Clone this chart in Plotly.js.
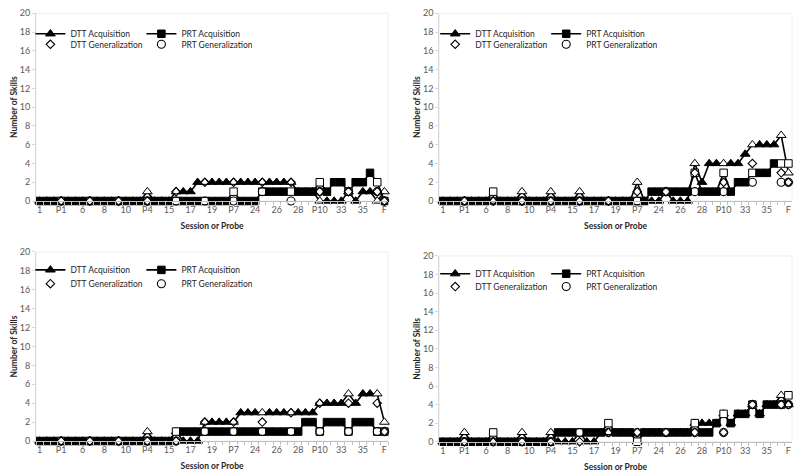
<!DOCTYPE html>
<html><head><meta charset="utf-8">
<script src="https://cdn.plot.ly/plotly-3.0.1.min.js"></script>
<style>html,body{margin:0;padding:0;background:#fff}#chart{width:800px;height:476px}</style>
</head><body><div id="chart"></div>
<script>
// Sessions and probes along the x axis
const categories = ["1","2","3","P1","4","5","6","P2","7","8","9","P3","10","11","12","P4","13","14","15","P5","16","17","18","P6","19","20","21","P7","22","23","24","P8","25","26","27","P9","28","29","30","P10","31","32","33","P11","34","35","36","P12","F"];
const tickLabels = ["1","P1","6","8","10","P4","15","17","19","P7","24","26","28","P10","33","35","F"];
const probeCategories = ["P1","P2","P3","P4","P5","P6","P7","P8","P9","P10","P11","P12","F"];

// Panel 1 (top left)
const p1DttAcq = [0,0,0,0,0,0,0,0,0,0,0,0,0,0,0, 1, 0,0,0, 1,1,1, 2,2,2,2,2,2,2,2,2,2,2,2,2,2, 1,1,1, 0,0,0,0, 1, 0, 1,1, 0, 1];
const p1PrtAcq = [0,0,0,0,0,0,0,0,0,0,0,0,0,0,0,0,0,0,0,0,0,0,0,0,0,0,0, 1, 0,0,0, 1,1,1,1,1,1,1,1, 2, 1, 2,2, 1, 2,2, 3, 2, 0];
const p1DttGen = [0,0,0,0,1,2,2,2,2,1,1,1,0];
const p1PrtGen = [0,0,0,0,0,0,0,1,0,1,1,1,0];

// Panel 2 (top right)
const p2DttAcq = [0,0,0,0,0,0,0,0,0,0,0, 1, 0,0,0, 1, 0,0,0, 1, 0,0,0,0,0,0,0, 2, 0,0,0, 1, 0,0,0, 4, 2, 4,4,4,4,4, 5, 6,6,6,6, 7, 3];
const p2PrtAcq = [0,0,0,0,0,0,0, 1, 0,0,0,0,0,0,0,0,0,0,0,0,0,0,0,0,0,0,0,0,0, 1,1,1,1,1,1, 3, 1,1,1, 3, 1, 2,2, 3, 3,3, 4, 4, 4];
const p2DttGen = [0,0,0,0,0,0,1,1,3,2,4,3,2];
const p2PrtGen = [0,0,0,0,0,0,0,1,1,1,2,2,2];

// Panel 3 (bottom left)
const p3DttAcq = [0,0,0,0,0,0,0,0,0,0,0,0,0,0,0, 1, 0,0,0, 1, 0,0,0, 2,2,2,2,2, 3,3,3,3,3,3,3,3,3,3,3, 4,4,4,4, 5, 4, 5,5,5, 2];
const p3PrtAcq = [0,0,0,0,0,0,0,0,0,0,0,0,0,0,0,0,0,0,0, 1,1,1,1,1,1,1,1,1,1,1,1,1,1,1,1,1,1, 2,2, 1, 2,2,2, 1, 2,2,2, 1, 1];
const p3DttGen = [0,0,0,0,0,2,2,2,3,4,4,4,1];
const p3PrtGen = [0,0,0,0,0,1,1,1,1,1,1,1,1];

// Panel 4 (bottom right)
const p4DttAcq = [0,0,0, 1, 0,0,0, 0, 0,0,0, 1, 0,0,0, 1, 0,0,0, 1, 0,0, 1,1,1,1,1, 0, 1,1,1,1,1,1,1, 2, 2,2,2, 3, 2, 3,3, 4, 3, 4,4, 5, 4];
const p4PrtAcq = [0,0,0,0,0,0,0, 1, 0,0,0,0,0,0,0,0, 1,1,1,1,1,1,1, 2, 1,1,1, 0, 1,1,1,1,1,1,1, 2, 1,1, 2, 3, 2, 3,3, 4, 3, 4,4, 4, 5];
const p4DttGen = [0,0,0,0,0,1,1,1,1,1,4,4,4];
const p4PrtGen = [0,0,0,0,1,1,1,1,1,1,4,4,4];

const panels = [
  {dttAcq:p1DttAcq, prtAcq:p1PrtAcq, dttGen:p1DttGen, prtGen:p1PrtGen},
  {dttAcq:p2DttAcq, prtAcq:p2PrtAcq, dttGen:p2DttGen, prtGen:p2PrtGen},
  {dttAcq:p3DttAcq, prtAcq:p3PrtAcq, dttGen:p3DttGen, prtGen:p3PrtGen},
  {dttAcq:p4DttAcq, prtAcq:p4PrtAcq, dttGen:p4DttGen, prtGen:p4PrtGen}
];

const FONT = "Lato, 'Open Sans', sans-serif";
const isProbe = c => probeCategories.includes(c);
const fillColors = categories.map(c => isProbe(c) ? "#ffffff" : "#000000");

// layout geometry (paper fractions)
const xDomains = [[0.045,0.485],[0.549,0.99],[0.045,0.485],[0.549,0.99]];
const yDomains = [[0.5777,0.9721],[0.5777,0.9721],[0.0735,0.4706],[0.072,0.4622]];
// legend anchors in paper fractions (row1 / row2)
const legendPos = [
  {x:0.038, y1:0.929, y2:0.907},
  {x:0.544, y1:0.929, y2:0.907},
  {x:0.038, y1:0.433, y2:0.404},
  {x:0.544, y1:0.425, y2:0.398}
];

const traces = [];
const layout = {
  width:800, height:476,
  margin:{l:0,r:0,t:0,b:0},
  paper_bgcolor:"#ffffff", plot_bgcolor:"#ffffff",
  font:{family:FONT, size:9, color:"#595959"},
  showlegend:true,
  shapes:[]
};

panels.forEach((p, i) => {
  const n = i + 1;
  const xa = n === 1 ? "x" : "x" + n;
  const ya = n === 1 ? "y" : "y" + n;
  const lg1 = n === 1 ? "legend" : "legend" + (2*i+1);
  const lg2 = "legend" + (2*i+2);

  traces.push({
    x: categories, y: p.dttAcq, xaxis: xa, yaxis: ya, legend: lg1,
    name: "DTT Acquisition", mode: "lines+markers", type: "scatter",
    line: {color:"#000000", width:1.6},
    marker: {symbol:"triangle-up", size:8.5, color: fillColors, line:{color:"#000000", width:1}},
    cliponaxis: false
  });
  traces.push({
    x: categories, y: p.prtAcq, xaxis: xa, yaxis: ya, legend: lg1,
    name: "PRT Acquisition", mode: "lines+markers", type: "scatter",
    line: {color:"#000000", width:1.6},
    marker: {symbol:"square", size:7.5, color: fillColors, line:{color:"#000000", width:1}},
    cliponaxis: false
  });
  traces.push({
    x: probeCategories, y: p.dttGen, xaxis: xa, yaxis: ya, legend: lg2,
    name: "DTT Generalization", mode: "markers", type: "scatter",
    marker: {symbol:"diamond-open", size:6.5, color:"#000000", line:{width:1.1}},
    cliponaxis: false
  });
  traces.push({
    x: probeCategories, y: p.prtGen, xaxis: xa, yaxis: ya, legend: lg2,
    name: "PRT Generalization", mode: "markers", type: "scatter",
    marker: {symbol:"circle-open", size:8, color:"#000000", line:{width:1.1}},
    cliponaxis: false
  });

  const xKey = n === 1 ? "xaxis" : "xaxis" + n;
  const yKey = n === 1 ? "yaxis" : "yaxis" + n;
  layout[xKey] = {
    domain: xDomains[i], anchor: ya,
    type: "category", categoryorder: "array", categoryarray: categories,
    range: [-0.5, categories.length - 0.5],
    tickmode: "array", tickvals: categories,
    ticktext: categories.map(c => tickLabels.includes(c) ? c : ""),
    tickson: "boundaries", tickangle: 0,
    ticks: "outside", ticklen: 3, tickcolor: "#bfbfbf", tickwidth: 1,
    showline: true, linecolor: "#bfbfbf", linewidth: 1,
    showgrid: false, zeroline: false, automargin: false,
    tickfont: {family:FONT, size:9, color:"#595959"},
    title: {text:"Session or Probe", font:{family:FONT, size:8.5, color:"#262626", weight:"bold"}, standoff: 9}
  };
  layout[yKey] = {
    domain: yDomains[i], anchor: xa,
    range: [0, 20], dtick: 2, tick0: 0,
    ticks: "outside", ticklen: 3, tickcolor: "#d9d9d9",
    showline: true, linecolor: "#d9d9d9", linewidth: 1,
    showgrid: false, zeroline: false, automargin: false,
    tickfont: {family:FONT, size:9, color:"#595959"},
    title: {text:"Number of Skills", font:{family:FONT, size:8.5, color:"#262626", weight:"bold"}, standoff: 0}
  };
  layout.shapes.push({type:"rect", xref: xa + " domain", yref: ya + " domain", x0:0, x1:1, y0:0, y1:1,
    line:{color:"#eeeeee", width:1}, layer:"below"});

  const lp = legendPos[i];
  const legendCommon = {
    orientation: "h", xanchor: "left", yanchor: "middle",
    bgcolor: "rgba(0,0,0,0)", borderwidth: 0,
    font: {family:FONT, size:8.5, color:"#262626"},
    entrywidth: 66, entrywidthmode: "pixels",
    itemwidth: 30, tracegroupgap: 0, itemclick: false, itemdoubleclick: false
  };
  layout[lg1] = Object.assign({}, legendCommon, {x: lp.x, y: lp.y1});
  layout[lg2] = Object.assign({}, legendCommon, {x: lp.x, y: lp.y2});
});

Plotly.newPlot("chart", traces, layout, {displayModeBar:false, staticPlot:true});
</script>
</body></html>
